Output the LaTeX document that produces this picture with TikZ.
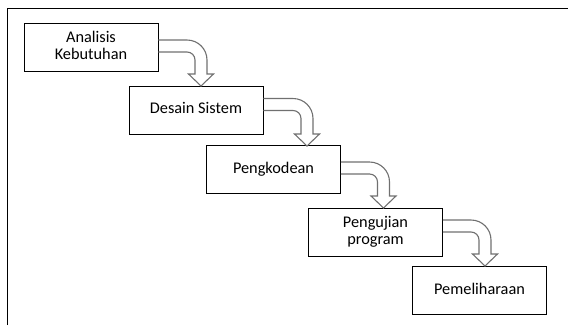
\documentclass[tikz,border=0pt]{standalone}
\usepackage{fontspec}
\setmainfont{Carlito}
\usetikzlibrary{calc}
\definecolor{arrowgray}{RGB}{112,112,112}
\tikzset{
  box/.style={draw=black, line width=0.9pt, rectangle, minimum width=134pt, minimum height=48pt,
    inner sep=0pt, align=center, font=\fontsize{16.3}{17}\selectfont,
    text height=11pt, text depth=4pt},
  twoline/.style={text height=28pt},
  blockarrow/.style={draw=arrowgray, line width=1.1pt, line join=miter},
  frame/.style={draw=black, line width=0.9pt}
}
\newcommand{\bigarrow}[2]{%
  \draw[blockarrow] let \p1=(#1), \p2=(#2) in
    (\x1,\y1+6pt) -- (\x2-14pt,\y1+6pt)
    arc[start angle=90, end angle=0, radius=20pt]
    -- (\x2+6pt,\y2+12pt) -- (\x2+12.5pt,\y2+12pt) -- (\x2,\y2)
    -- (\x2-12.5pt,\y2+12pt) -- (\x2-6pt,\y2+12pt) -- (\x2-6pt,\y1-14pt)
    arc[start angle=0, end angle=90, radius=8pt]
    -- (\x1,\y1-6pt);}
\begin{document}
\begin{tikzpicture}[x=1pt,y=1pt]
\useasboundingbox (0,0) rectangle (568,-325);
% frame
\coordinate (fA) at (7,-325);
\coordinate (fB) at (7,-8);
\coordinate (fC) at (568,-8);
\draw[frame] (fA) -- (fB) -- (fC);
% boxes
\node[box,twoline] (b1) at (91,-47.5) {Analisis\\Kebutuhan};
\node[box] (b2) at (196,-110) {Desain Sistem};
\node[box] (b3) at (273.5,-169.5) {Pengkodean};
\node[box,twoline] (b4) at (375.5,-232.5) {Pengujian\\program};
\node[box] (b5) at (479.5,-290.5) {Pemeliharaan};
% arrow start/tip points
\coordinate (s1) at (b1.east |- 0,-46);
\coordinate (t1) at (201,-86);
\coordinate (s2) at (b2.east |- 0,-104.5);
\coordinate (t2) at (307,-146);
\coordinate (s3) at (b3.east |- 0,-168);
\coordinate (t3) at (383.5,-208);
\coordinate (s4) at (b4.east |- 0,-226);
\coordinate (t4) at (485,-266);
\bigarrow{s1}{t1}
\bigarrow{s2}{t2}
\bigarrow{s3}{t3}
\bigarrow{s4}{t4}
\end{tikzpicture}
\end{document}
